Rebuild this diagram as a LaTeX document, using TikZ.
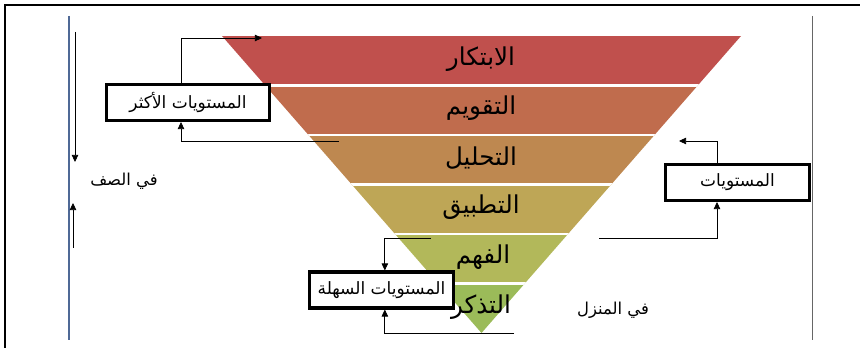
\documentclass[tikz,border=0pt]{standalone}
\usepackage{fontspec}
\usetikzlibrary{arrows.meta}
\newfontfamily\arabicfont[Script=Arabic]{DejaVu Sans}
\TeXXeTstate=1
\definecolor{bandA}{RGB}{192,80,77}
\definecolor{bandB}{RGB}{192,108,77}
\definecolor{bandC}{RGB}{190,136,80}
\definecolor{bandD}{RGB}{190,166,86}
\definecolor{bandE}{RGB}{178,184,90}
\definecolor{bandF}{RGB}{155,187,89}
\definecolor{sideblue}{RGB}{79,105,150}
\begin{document}
\begin{tikzpicture}[x=0.03cm,y=-0.03cm,
    level/.style={font=\arabicfont\fontsize{21}{24}\selectfont},
    note/.style={font=\arabicfont\fontsize{14}{16}\selectfont},
    levelbox/.style={draw,line width=2.6pt,fill=white,inner sep=0pt,
      minimum height=1.08cm,font=\arabicfont\fontsize{14.5}{16}\selectfont},
    link/.style={-{Triangle[length=6pt,width=5.5pt]},line width=0.6pt}]
  \useasboundingbox (0,0) rectangle (860,348);
  % frame
  \draw[line width=1.2pt] (5,348) -- (5,5) -- (860,5);
  \draw[sideblue,line width=1.2pt] (69,16) -- (69,340);
  \draw[black!60,line width=0.8pt] (812,16) -- (812,340);
  % pyramid
  \begin{scope}
    \clip (222,36) -- (741,36) -- (481.5,333) -- cycle;
    \foreach \c [count=\i from 0] in {bandA,bandB,bandC,bandD,bandE,bandF}
      \fill[\c] (200,36+49.5*\i) rectangle (760,85.5+49.5*\i);
    \foreach \i in {1,...,5}
      \draw[white,line width=2.4pt] (200,36+49.5*\i) -- (760,36+49.5*\i);
  \end{scope}
  \node[level] (create) at (481,59) {\beginR الابتكار\endR};
  \node[level] (evaluate) at (481,108) {\beginR التقويم\endR};
  \node[level] (analyse) at (481,158) {\beginR التحليل\endR};
  \node[level] (apply) at (481,207) {\beginR التطبيق\endR};
  \node[level] (understand) at (483,257) {\beginR الفهم\endR};
  \node[level] (remember) at (481,307) {\beginR التذكر\endR};
  % boxes
  \node[levelbox,minimum width=4.88cm] (higher) at (188,102.5) {\beginR المستويات الأكثر\endR};
  \node[levelbox,minimum width=4.32cm] (easier) at (381.5,290) {\beginR المستويات السهلة\endR};
  \node[levelbox,minimum width=4.32cm] (middle) at (737.5,182.5) {\beginR المستويات\endR};
  % places
  \node[note] (classroom) at (124,181) {\beginR في الصف\endR};
  \node[note] (home) at (613,310) {\beginR في المنزل\endR};
  % arrows
  \coordinate (higherup) at (262,38);
  \coordinate (higherin) at (339,141);
  \draw[link] ([xshift=-0.21cm]higher.north) |- (higherup);
  \draw[link] (higherin) -| ([xshift=-0.21cm]higher.south);
  \coordinate (easierin) at (431,238);
  \coordinate (easierbase) at (514,333);
  \draw[link] (easierin) -| ([xshift=0.1cm]easier.north);
  \draw[link] (easierbase) -| ([xshift=0.1cm]easier.south);
  \coordinate (middleup) at (679,141);
  \coordinate (middlein) at (599,238);
  \draw[link] ([xshift=-0.615cm]middle.north) |- (middleup);
  \draw[link] (middlein) -| ([xshift=-0.615cm]middle.south);
  \coordinate (downtop) at (75,32);
  \coordinate (downend) at (75,162);
  \coordinate (uptop) at (73,203);
  \coordinate (upend) at (73,248);
  \draw[link] (downtop) -- (downend);
  \draw[link] (upend) -- (uptop);
\end{tikzpicture}
\end{document}
